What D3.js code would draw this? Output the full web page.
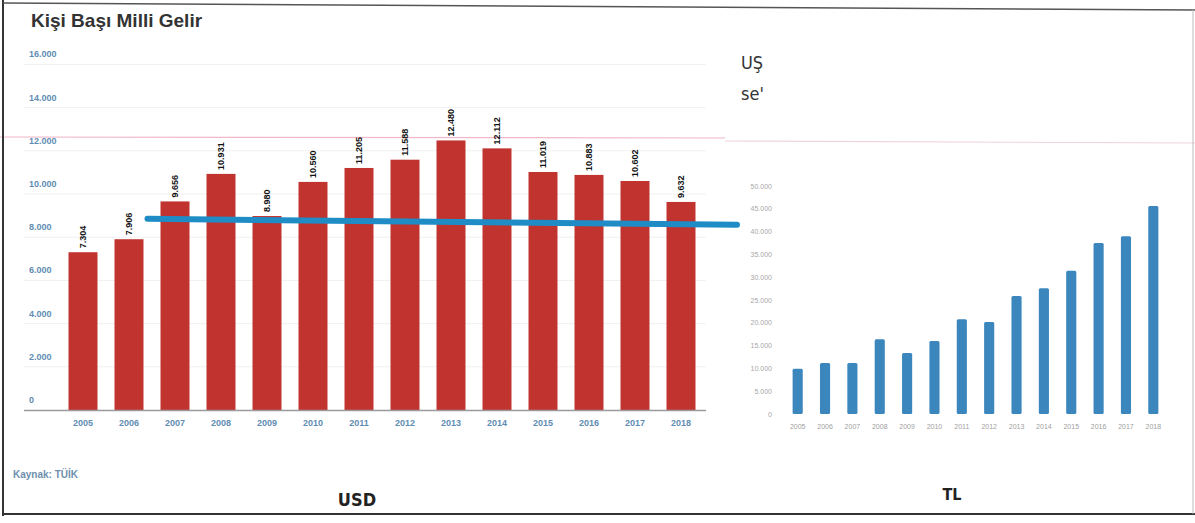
<!DOCTYPE html>
<html>
<head>
<meta charset="utf-8">
<script src="https://cdn.jsdelivr.net/npm/d3@7/dist/d3.min.js"></script>
<style>
  html, body { margin: 0; padding: 0; background: #fff; }
  svg { display: block; }
</style>
</head>
<body>
<script>
// ---------- DATA ----------
const years = ["2005","2006","2007","2008","2009","2010","2011","2012","2013","2014","2015","2016","2017","2018"];
const usdValues = [7304, 7906, 9656, 10931, 8980, 10560, 11205, 11588, 12480, 12112, 11019, 10883, 10602, 9632];
const usdTicks = [0, 2000, 4000, 6000, 8000, 10000, 12000, 14000, 16000];
const refLineValues = [8850, 8580];   // blue overlay line, start / end level
const tlValues = [9900, 11200, 11200, 16400, 13400, 16000, 20800, 20200, 25900, 27600, 31400, 37500, 39000, 45600];
const tlTicks = [0, 5000, 10000, 15000, 20000, 25000, 30000, 35000, 40000, 45000, 50000];
const titleText = "Kişi Başı Milli Gelir";
const sourceText = "Kaynak: TÜİK";
const leftCaption = "USD";
const rightCaption = "TL";
const overlayLines = ["UŞ", "se'"];

// ---------- SETUP ----------
const W = 1195, H = 523;
const svg = d3.select("body").append("svg").attr("width", W).attr("height", H);
svg.append("rect").attr("width", W).attr("height", H).attr("fill", "#fff");

const trFmt = v => d3.format(",")(v).replace(/,/g, ".");

// pink fold line
svg.append("line").attr("x1", 0).attr("x2", 725).attr("y1", 137).attr("y2", 138)
  .attr("stroke", "#f1b6c8").attr("stroke-width", 1.2);
svg.append("line").attr("x1", 725).attr("x2", W).attr("y1", 141).attr("y2", 143)
  .attr("stroke", "#efd3dc").attr("stroke-width", 1.2);

// ---------- LEFT CHART (USD) ----------
const xL = d3.scaleBand().domain(years).range([60, 704]).paddingInner(0.37).paddingOuter(0.185);
const yL = d3.scaleLinear().domain([0, 16000]).range([410, 410 - 16 * 21.6]);

// gridlines
svg.append("g").selectAll("line").data(usdTicks.slice(1)).join("line")
  .attr("x1", 24).attr("x2", 706)
  .attr("y1", d => yL(d)).attr("y2", d => yL(d))
  .attr("stroke", "#f0f0f0").attr("stroke-width", 1);

// y tick labels (sit above their gridlines)
svg.append("g").selectAll("text").data(usdTicks).join("text")
  .attr("x", 29).attr("y", d => yL(d) - 7)
  .attr("font-family", "Liberation Sans, Arial, sans-serif")
  .attr("font-size", 9).attr("font-weight", "bold")
  .attr("fill", "#5f8db3")
  .text(d => trFmt(d));

// bars
svg.append("g").selectAll("rect").data(years).join("rect")
  .attr("x", d => xL(d)).attr("width", xL.bandwidth())
  .attr("y", (d, i) => yL(usdValues[i]))
  .attr("height", (d, i) => yL(0) - yL(usdValues[i]))
  .attr("fill", "#c0332f");

// x axis line
svg.append("line").attr("x1", 24).attr("x2", 706).attr("y1", 410.5).attr("y2", 410.5)
  .attr("stroke", "#9a9a9a").attr("stroke-width", 1.5);

// year labels
svg.append("g").selectAll("text").data(years).join("text")
  .attr("x", d => xL(d) + xL.bandwidth() / 2).attr("y", 426)
  .attr("text-anchor", "middle")
  .attr("font-family", "Liberation Sans, Arial, sans-serif")
  .attr("font-size", 9).attr("font-weight", "bold")
  .attr("fill", "#5f8db3")
  .text(d => d);

// value labels (vertical)
svg.append("g").selectAll("text").data(years).join("text")
  .attr("transform", (d, i) => `translate(${xL(d) + xL.bandwidth() / 2 + 3},${yL(usdValues[i]) - 4}) rotate(-90)`)
  .attr("font-family", "Liberation Sans, Arial, sans-serif")
  .attr("font-size", 9).attr("font-weight", "bold")
  .attr("fill", "#111")
  .text((d, i) => trFmt(usdValues[i]));

// blue overlay line
svg.append("line")
  .attr("x1", xL("2006") + xL.bandwidth() + 4).attr("y1", yL(refLineValues[0]))
  .attr("x2", 737).attr("y2", yL(refLineValues[1]))
  .attr("stroke", "#1f8cc6").attr("stroke-width", 6).attr("stroke-linecap", "round");

// ---------- RIGHT CHART (TL) ----------
const xR = d3.scaleBand().domain(years).range([784, 1167]).paddingInner(0.63).paddingOuter(0.315);
const yR = d3.scaleLinear().domain([0, 50000]).range([414, 186]);

svg.append("g").selectAll("text").data(tlTicks).join("text")
  .attr("x", 772).attr("y", d => yR(d) + 2.5)
  .attr("text-anchor", "end")
  .attr("font-family", "Liberation Sans, Arial, sans-serif")
  .attr("font-size", 7)
  .attr("fill", "#a8a8a8")
  .text(d => trFmt(d));

svg.append("g").selectAll("rect").data(years).join("rect")
  .attr("x", d => xR(d)).attr("width", xR.bandwidth())
  .attr("y", (d, i) => yR(tlValues[i]))
  .attr("height", (d, i) => yR(0) - yR(tlValues[i]))
  .attr("rx", 1.5)
  .attr("fill", "#3b86bd");

svg.append("g").selectAll("text").data(years).join("text")
  .attr("x", d => xR(d) + xR.bandwidth() / 2).attr("y", 429)
  .attr("text-anchor", "middle")
  .attr("font-family", "Liberation Sans, Arial, sans-serif")
  .attr("font-size", 7)
  .attr("fill", "#a0a0a0")
  .text(d => d);

// ---------- TEXTS ----------
svg.append("text").attr("x", 31).attr("y", 27)
  .attr("font-family", "Liberation Sans, Arial, sans-serif")
  .attr("font-size", 19).attr("font-weight", "bold")
  .attr("fill", "#333").text(titleText);

svg.append("text").attr("x", 13).attr("y", 478)
  .attr("font-family", "Liberation Sans, Arial, sans-serif")
  .attr("font-size", 10).attr("font-weight", "bold")
  .attr("fill", "#6f90ad").text(sourceText);

svg.append("text").attr("x", 357).attr("y", 506).attr("text-anchor", "middle")
  .attr("font-family", "DejaVu Sans Condensed, DejaVu Sans, sans-serif")
  .attr("font-size", 18).attr("font-weight", "bold").attr("fill", "#222").text(leftCaption);

svg.append("text").attr("x", 952).attr("y", 500).attr("text-anchor", "middle")
  .attr("font-family", "DejaVu Sans Condensed, DejaVu Sans, sans-serif")
  .attr("font-size", 16).attr("font-weight", "bold").attr("fill", "#222").text(rightCaption);

svg.append("g").selectAll("text").data(overlayLines).join("text")
  .attr("x", 741).attr("y", (d, i) => 69 + i * 31)
  .attr("font-family", "DejaVu Sans Condensed, DejaVu Sans, sans-serif")
  .attr("font-size", 18).attr("fill", "#333").text(d => d);

// ---------- PAGE FRAME ----------
svg.append("line").attr("x1", 3).attr("x2", 3).attr("y1", 0).attr("y2", 516)
  .attr("stroke", "#333").attr("stroke-width", 2);
svg.append("line").attr("x1", 3).attr("x2", W).attr("y1", 3).attr("y2", 10)
  .attr("stroke", "#555").attr("stroke-width", 1.5);
svg.append("line").attr("x1", 3).attr("x2", W).attr("y1", 514).attr("y2", 514)
  .attr("stroke", "#333").attr("stroke-width", 2);
svg.append("line").attr("x1", 1193).attr("x2", 1193).attr("y1", 10).attr("y2", 514)
  .attr("stroke", "#bbb").attr("stroke-width", 1);
</script>
</body>
</html>
